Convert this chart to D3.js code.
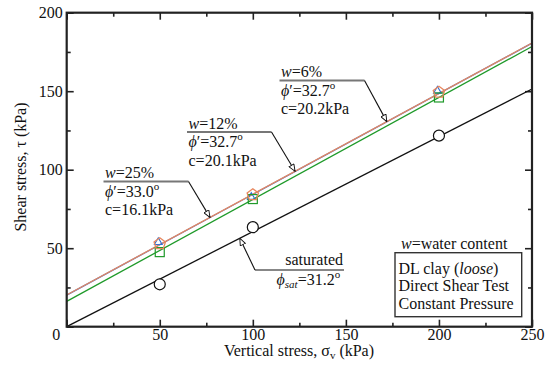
<!DOCTYPE html>
<html>
<head>
<meta charset="utf-8">
<script src="https://cdn.jsdelivr.net/npm/d3@7/dist/d3.min.js"></script>
</head>
<body style="margin:0;background:#fff">
<svg id="chart" width="554" height="365" style="font-family:'Liberation Serif'"></svg>
<script>
// Normal (vertical) stress levels of the direct shear tests, kPa
const stressLevels = [50, 100, 200];

// Peak shear stress for each water content, kPa
const tauW6  = [52.8, 84.0, 149.3];
const tauW12 = [53.8, 82.5, 150.2];
const tauW25 = [47.5, 81.3, 146.0];
const tauSat = [27.0, 63.4, 121.7];

// Mohr-Coulomb envelopes: tau = c + sigma * tan(phi)
const envelopeNames = ["w12", "w25", "w6", "sat"];
const cohesion      = [20.1, 16.1, 20.2, 0.0];
const frictionAngle = [32.7, 33.0, 32.7, 31.2];

// Axis ticks
const xMajorTicks = [0, 50, 100, 150, 200, 250];
const xMinorTicks = [25, 75, 125, 175, 225];
const yMajorTicks = [0, 50, 100, 150, 200];
const yMinorTicks = [25, 75, 125, 175];

const SERIF = "'Liberation Serif'";
const colors = { w6: "#e8875e", w12: "#2f6fd6", w25: "#1f9a2a", sat: "#111" };

const svg = d3.select("#chart");
const x = d3.scaleLinear().domain([0, 250]).range([66.7, 532]);
const y = d3.scaleLinear().domain([0, 200]).range([326.7, 12.7]);

const envelope = name => {
  const i = envelopeNames.indexOf(name);
  const t = Math.tan(frictionAngle[i] * Math.PI / 180);
  return s => cohesion[i] + s * t;
};

// Axes: inward ticks on all four sides
const axisG = svg.append("g").attr("class", "axes");
function addAxis(gen, transform) {
  const g = axisG.append("g").attr("transform", transform).call(gen);
  g.attr("font-family", null).attr("font-size", null);
  g.select(".domain").remove();
  g.selectAll(".tick line").attr("stroke", "#222").attr("stroke-width", 1.6);
  g.selectAll(".tick text").attr("fill", "#111")
    .style("font-family", SERIF).style("font-size", "16px");
  return g;
}
const xb = addAxis(d3.axisBottom(x).tickValues(xMajorTicks).tickSize(-7).tickPadding(2), `translate(0,${y(0)})`);
xb.selectAll(".tick text").attr("dx", d => d === 0 ? -11 : 0);
addAxis(d3.axisBottom(x).tickValues(xMinorTicks).tickSize(-4).tickFormat(""), `translate(0,${y(0)})`);
addAxis(d3.axisTop(x).tickValues(xMajorTicks).tickSize(-7).tickFormat(""), `translate(0,${y(200)})`);
addAxis(d3.axisTop(x).tickValues(xMinorTicks).tickSize(-4).tickFormat(""), `translate(0,${y(200)})`);
addAxis(d3.axisLeft(y).tickValues(yMajorTicks).tickSize(-7).tickPadding(4)
  .tickFormat(d => d === 0 ? "" : d), `translate(${x(0)},0)`);
addAxis(d3.axisLeft(y).tickValues(yMinorTicks).tickSize(-4).tickFormat(""), `translate(${x(0)},0)`);
addAxis(d3.axisRight(y).tickValues(yMajorTicks).tickSize(-7).tickFormat(""), `translate(${x(250)},0)`);
addAxis(d3.axisRight(y).tickValues(yMinorTicks).tickSize(-4).tickFormat(""), `translate(${x(250)},0)`);

// Envelope lines
const lineGen = d3.line().x(d => x(d[0])).y(d => y(d[1]));
["sat", "w25", "w12", "w6"].forEach(name => {
  const f = envelope(name);
  svg.append("path")
    .attr("d", lineGen([[0, f(0)], [250, f(250)]]))
    .attr("fill", "none").attr("stroke", colors[name]).attr("stroke-width", 1.3);
});

// Markers (w=12% triangles sit mostly beneath the w=6% pentagons)
const pts = arr => stressLevels.map((s, i) => [s, arr[i]]);
svg.append("g").selectAll("path").data(pts(tauW12)).join("path")
  .attr("d", d3.symbol(d3.symbolTriangle, 26))
  .attr("transform", d => `translate(${x(d[0]) - 1.5},${y(d[1])})`)
  .attr("fill", "none").attr("stroke", colors.w12).attr("stroke-width", 1.1);
svg.append("g").selectAll("rect").data(pts(tauW25)).join("rect")
  .attr("x", d => x(d[0]) - 4.5).attr("y", d => y(d[1]) - 4.5)
  .attr("width", 9).attr("height", 9)
  .attr("fill", "none").attr("stroke", colors.w25).attr("stroke-width", 1.2);
const pentagon = r => d3.range(5).map(k => {
  const a = -Math.PI / 2 + k * 2 * Math.PI / 5;
  return [r * Math.cos(a), r * Math.sin(a)];
});
svg.append("g").selectAll("path").data(pts(tauW6)).join("path")
  .attr("d", d3.line()(pentagon(6)) + "Z")
  .attr("transform", d => `translate(${x(d[0])},${y(d[1])})`)
  .attr("fill", "none").attr("stroke", colors.w6).attr("stroke-width", 1.3);
svg.append("g").selectAll("circle").data(pts(tauSat)).join("circle")
  .attr("cx", d => x(d[0])).attr("cy", d => y(d[1])).attr("r", 5.5)
  .attr("fill", "#fff").attr("stroke", "#111").attr("stroke-width", 1.2);

// Frame
svg.append("rect")
  .attr("x", x(0)).attr("y", y(200))
  .attr("width", x(250) - x(0)).attr("height", y(0) - y(200))
  .attr("fill", "none").attr("stroke", "#222").attr("stroke-width", 2.2);

// Open arrowhead
svg.append("defs").append("marker")
  .attr("id", "arrow").attr("viewBox", "0 0 10 10")
  .attr("refX", 10).attr("refY", 5)
  .attr("markerWidth", 8).attr("markerHeight", 7)
  .attr("markerUnits", "userSpaceOnUse")
  .attr("orient", "auto")
  .append("path").attr("d", "M0,1 L10,5 L0,9 Z")
  .attr("fill", "#fff").attr("stroke", "#111").attr("stroke-width", 1.3);

// Helpers for mixed-style text
function richText(xp, yp, parts, anchor) {
  const t = svg.append("text").attr("x", xp).attr("y", yp)
    .style("font-family", SERIF).style("font-size", "16px").attr("fill", "#111")
    .attr("text-anchor", anchor || "start");
  parts.forEach(p => {
    const s = t.append("tspan").text(p.t);
    if (p.i) s.style("font-style", "italic");
    if (p.size) s.style("font-size", p.size + "px");
    if (p.dy) s.attr("dy", p.dy);
  });
  return t;
}
const deg = [{ t: "o", size: 11, dy: -7 }];

// Strength parameter callouts
function callout(left, top, underlineEnd, wLabel, phi, c, tipStress) {
  richText(left, top, [{ t: "w", i: true }, { t: "=" + wLabel }]);
  richText(left, top + 18.5, [{ t: "ϕ", i: true }, { t: "′=" + phi }].concat(deg));
  richText(left, top + 37, [{ t: "c=" + c + "kPa" }]);
  svg.append("line")
    .attr("x1", left - 1.5).attr("x2", underlineEnd)
    .attr("y1", top + 3.5).attr("y2", top + 3.5)
    .attr("stroke", "#777").attr("stroke-width", 1.8);
  const f = envelope("w6");
  svg.append("line")
    .attr("x1", underlineEnd).attr("y1", top + 3.5)
    .attr("x2", x(tipStress)).attr("y2", y(f(tipStress)))
    .attr("stroke", "#111").attr("stroke-width", 1.1)
    .attr("marker-end", "url(#arrow)");
}
callout(105, 178, 188.5, "25%", "33.0", "16.1", 77);
callout(188.5, 128.5, 271.5, "12%", "32.7", "20.1", 122.7);
callout(281, 77, 364.5, "6%", "32.7", "20.2", 172);

// Saturated callout
richText(343, 265, [{ t: "saturated" }], "end");
richText(276.5, 285, [{ t: "ϕ", i: true }, { t: "sat", i: true, size: 11, dy: 3 },
  { t: "=31.2", dy: -3 }].concat(deg));
svg.append("line").attr("x1", 255).attr("x2", 344).attr("y1", 270).attr("y2", 270)
  .attr("stroke", "#111").attr("stroke-width", 1.1);
const fs = envelope("sat");
svg.append("line").attr("x1", 255).attr("y1", 270)
  .attr("x2", x(93)).attr("y2", y(fs(93)))
  .attr("stroke", "#111").attr("stroke-width", 1.1)
  .attr("marker-end", "url(#arrow)");

// Legend note and box
richText(401, 248.5, [{ t: "w", i: true }, { t: "=water content" }]);
svg.append("rect").attr("x", 395).attr("y", 252.7).attr("width", 126.7).attr("height", 64)
  .attr("fill", "#fff").attr("stroke", "#333").attr("stroke-width", 1.4);
richText(398.5, 273.5, [{ t: "DL clay (" }, { t: "loose", i: true }, { t: ")" }]);
richText(398.5, 290.5, [{ t: "Direct Shear Test" }]);
richText(398.5, 308.5, [{ t: "Constant Pressure" }]);

// Axis titles
richText(299, 356, [{ t: "Vertical stress, σ" }, { t: "v", size: 11, dy: 3 }, { t: " (kPa)", dy: -3 }], "middle");
svg.append("text").attr("transform", `translate(25.5,167) rotate(-90)`)
  .style("font-family", SERIF).style("font-size", "16px").attr("fill", "#111")
  .attr("text-anchor", "middle").text("Shear stress, τ (kPa)");
</script>
</body>
</html>
